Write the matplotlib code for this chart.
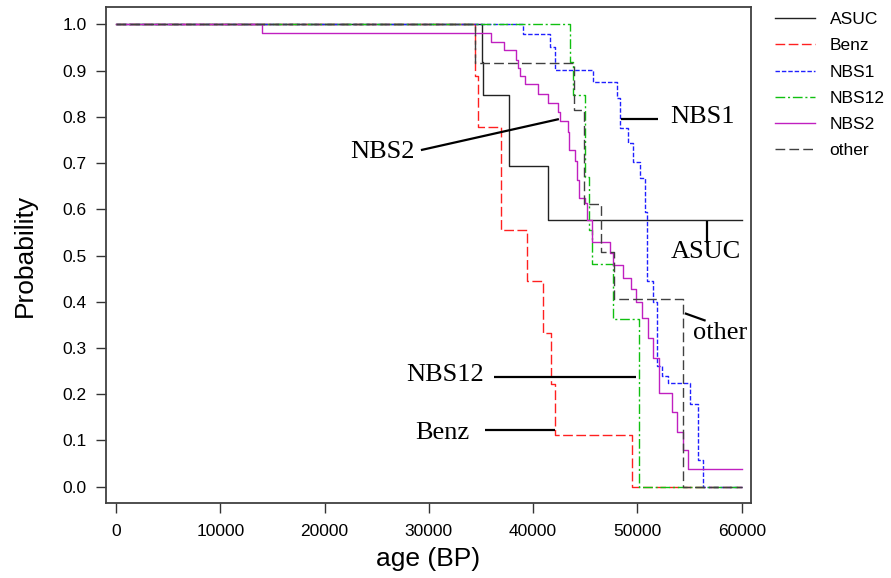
import matplotlib
matplotlib.use("Agg")
import matplotlib.pyplot as plt
import numpy as np

# ---------------- data ----------------
asuc_x = [0, 35060, 35220, 37680, 41390, 60000]
asuc_y = [1.0, 0.919, 0.847, 0.694, 0.576, 0.576]

benz_x = [0, 34420, 34740, 36910, 39380, 40970, 41710, 42090, 49440, 60000]
benz_y = [1.0, 0.889, 0.778, 0.556, 0.444, 0.333, 0.222, 0.111, 0.0, 0.0]

nbs1_x = [0, 39020, 41610, 42090, 45730, 48060, 48320, 49120, 49570, 50240,
          50720, 50880, 51510, 51840, 52320, 52950, 55030, 55800, 56280, 60000]
nbs1_y = [1.0, 0.978, 0.951, 0.902, 0.875, 0.84, 0.775, 0.743, 0.703, 0.667,
          0.595, 0.445, 0.40, 0.26, 0.24, 0.224, 0.178, 0.058, 0.0, 0.0]

nbs12_x = [0, 43530, 43840, 44970, 45380, 45670, 47680, 50170, 60000]
nbs12_y = [1.0, 0.919, 0.847, 0.67, 0.555, 0.482, 0.363, 0.0, 0.0]

nbs2_x = [0, 14000, 35930, 37230, 38350, 38570, 38730, 39210, 40430, 41450,
          42410, 42570, 43310, 43460, 44010, 44170, 44420, 44970, 45180, 45610,
          47360, 47680, 48640, 49380, 49860, 50400, 51040, 51460, 52090, 53280,
          53810, 54390, 54870, 60000]
nbs2_y = [1.0, 0.982, 0.962, 0.945, 0.922, 0.906, 0.888, 0.870, 0.850, 0.830,
          0.811, 0.790, 0.767, 0.728, 0.705, 0.663, 0.625, 0.613, 0.577, 0.53,
          0.505, 0.479, 0.451, 0.427, 0.400, 0.364, 0.321, 0.278, 0.202, 0.161,
          0.119, 0.080, 0.038, 0.038]

other_x = [0, 34420, 43930, 44870, 46470, 47780, 54390, 60000]
other_y = [1.0, 0.917, 0.815, 0.611, 0.508, 0.406, 0.0, 0.0]

series_names = ["ASUC", "Benz", "NBS1", "NBS12", "NBS2", "other"]
x_ticks = [0, 10000, 20000, 30000, 40000, 50000, 60000]
y_ticks = [0.0, 0.1, 0.2, 0.3, 0.4, 0.5, 0.6, 0.7, 0.8, 0.9, 1.0]

# annotation labels: (text, text x, text y, ha, line x0, y0, x1, y1)
annotations = [
    ("NBS1", 53120, 0.800, "left", 48420, 0.795, 51930, 0.795),
    ("NBS2", 28670, 0.724, "right", 29240, 0.728, 42470, 0.795),
    ("ASUC", 56570, 0.507, "center", 56630, 0.575, 56630, 0.528),
    ("other", 55350, 0.332, "left", 54550, 0.375, 56540, 0.359),
    ("NBS12", 35280, 0.2416, "right", 36270, 0.238, 49860, 0.238),
    ("Benz", 33940, 0.116, "right", 35380, 0.1226, 42090, 0.1226),
]

# ---------------- figure ----------------
W, H = 891, 578
fig = plt.figure(figsize=(W / 100, H / 100), dpi=100)
ax = fig.add_axes([106 / W, 1 - 503.3 / H, (750.7 - 106) / W, (503.3 - 7.3) / H])

sans = ["Liberation Sans", "DejaVu Sans"]
serif = ["Liberation Serif", "DejaVu Serif"]

styles = {
    "ASUC": dict(color="#222222", linestyle="-"),
    "Benz": dict(color="#ff2020", linestyle=(0, (7, 2.5))),
    "NBS1": dict(color="#2020ff", linestyle=(0, (3.2, 1.4))),
    "NBS12": dict(color="#10c010", linestyle=(0, (7, 2, 1.5, 2))),
    "NBS2": dict(color="#c020c0", linestyle="-"),
    "other": dict(color="#404040", linestyle=(0, (7, 3))),
}
data = {
    "ASUC": (asuc_x, asuc_y),
    "Benz": (benz_x, benz_y),
    "NBS1": (nbs1_x, nbs1_y),
    "NBS12": (nbs12_x, nbs12_y),
    "NBS2": (nbs2_x, nbs2_y),
    "other": (other_x, other_y),
}
handles = []
for name in series_names:
    xs, ys = data[name]
    h, = ax.step(xs, ys, where="post", lw=1.0, label=name, **styles[name])
    handles.append(h)

for txt, tx, ty, ha, x0, y0, x1, y1 in annotations:
    ax.plot([x0, x1], [y0, y1], color="black", lw=1.6, solid_capstyle="butt")
    ax.text(tx, ty, txt, ha=ha, va="center", fontsize=19, family=serif, color="black")

ax.set_xlim(-959, 60863)
ax.set_ylim(-0.0359, 1.0368)
ax.set_xticks(x_ticks)
ax.set_xticklabels([str(v) for v in x_ticks], family=sans, fontsize=12.5)
ax.set_yticks(y_ticks)
ax.set_yticklabels(["%.1f" % v for v in y_ticks], family=sans, fontsize=12.5)
ax.tick_params(direction="out", length=7, width=1.0, color="#333333", pad=7)
ax.tick_params(axis="x", pad=8)

for s in ax.spines.values():
    s.set_color("#404040")
    s.set_linewidth(1.3)

ax.set_xlabel("age (BP)", family=sans, fontsize=19, labelpad=6)
ax.set_ylabel("Probability", family=sans, fontsize=19, labelpad=18)

leg = fig.legend(handles=handles, labels=series_names, loc="upper left",
                 bbox_to_anchor=(775 / W, 1 - 12 / H), frameon=False,
                 prop={"family": sans, "size": 12.5}, borderpad=0,
                 handlelength=2.3, handletextpad=0.85, labelspacing=0.64,
                 borderaxespad=0)

fig.savefig("out.png", dpi=100)
